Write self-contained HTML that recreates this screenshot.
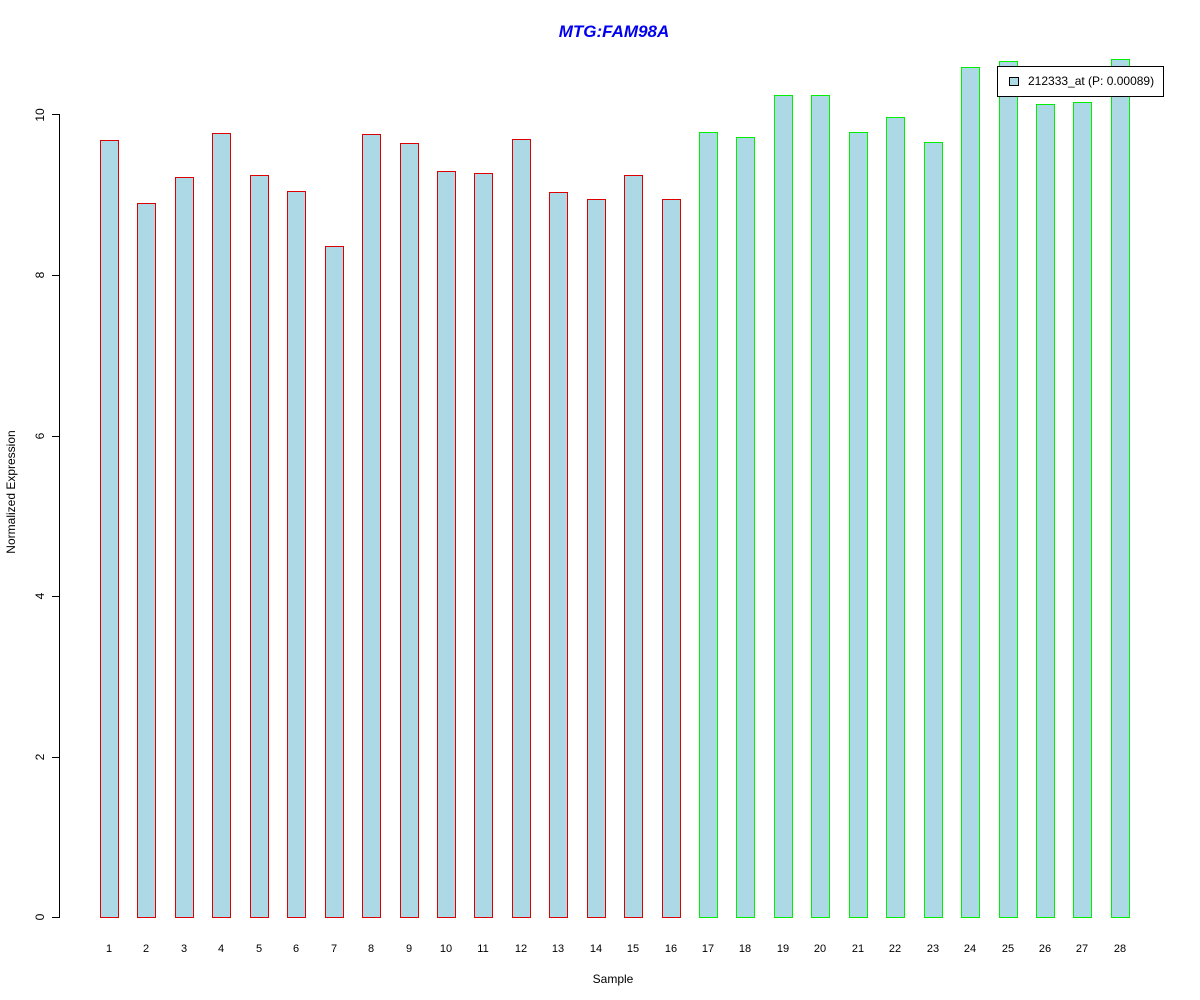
<!DOCTYPE html>
<html><head><meta charset="utf-8"><style>body{margin:0;background:#fff}
.b{position:absolute;box-sizing:border-box;background:#add8e6;border:1px solid #dd0000}
.b.g{border-color:#00ee00}
.l{position:absolute;top:943px;width:40px;margin-left:-20px;text-align:center;font:11px "Liberation Sans",Arial,sans-serif}
</style></head><body>
<div style="position:relative;width:1200px;height:1000px;overflow:hidden">
<svg width="1200" height="1000" xmlns="http://www.w3.org/2000/svg" font-family="Liberation Sans, Arial, sans-serif" style="position:absolute;left:0;top:0">
<text x="614" y="37" text-anchor="middle" font-size="17" font-weight="bold" font-style="italic" fill="#0000ee">MTG:FAM98A</text>
<rect x="59" y="114" width="1" height="804" fill="#000"/>
<rect x="52" y="917" width="8" height="1" fill="#000"/>
<rect x="52" y="757" width="8" height="1" fill="#000"/>
<rect x="52" y="596" width="8" height="1" fill="#000"/>
<rect x="52" y="436" width="8" height="1" fill="#000"/>
<rect x="52" y="275" width="8" height="1" fill="#000"/>
<rect x="52" y="114" width="8" height="1" fill="#000"/>
<g font-size="12" text-anchor="middle">
<text transform="translate(44,917) rotate(-90)">0</text>
<text transform="translate(44,757) rotate(-90)">2</text>
<text transform="translate(44,596) rotate(-90)">4</text>
<text transform="translate(44,436) rotate(-90)">6</text>
<text transform="translate(44,275) rotate(-90)">8</text>
<text transform="translate(44,115) rotate(-90)">10</text>
<text transform="translate(15,492) rotate(-90)">Normalized Expression</text>
<text x="613" y="983">Sample</text>
</g>
</svg>
<div class="b" style="left:100px;top:140px;width:19px;height:778px"></div>
<div class="b" style="left:137px;top:203px;width:19px;height:715px"></div>
<div class="b" style="left:175px;top:177px;width:19px;height:741px"></div>
<div class="b" style="left:212px;top:133px;width:19px;height:785px"></div>
<div class="b" style="left:250px;top:175px;width:19px;height:743px"></div>
<div class="b" style="left:287px;top:191px;width:19px;height:727px"></div>
<div class="b" style="left:325px;top:246px;width:19px;height:672px"></div>
<div class="b" style="left:362px;top:134px;width:19px;height:784px"></div>
<div class="b" style="left:400px;top:143px;width:19px;height:775px"></div>
<div class="b" style="left:437px;top:171px;width:19px;height:747px"></div>
<div class="b" style="left:474px;top:173px;width:19px;height:745px"></div>
<div class="b" style="left:512px;top:139px;width:19px;height:779px"></div>
<div class="b" style="left:549px;top:192px;width:19px;height:726px"></div>
<div class="b" style="left:587px;top:199px;width:19px;height:719px"></div>
<div class="b" style="left:624px;top:175px;width:19px;height:743px"></div>
<div class="b" style="left:662px;top:199px;width:19px;height:719px"></div>
<div class="b g" style="left:699px;top:132px;width:19px;height:786px"></div>
<div class="b g" style="left:736px;top:137px;width:19px;height:781px"></div>
<div class="b g" style="left:774px;top:95px;width:19px;height:823px"></div>
<div class="b g" style="left:811px;top:95px;width:19px;height:823px"></div>
<div class="b g" style="left:849px;top:132px;width:19px;height:786px"></div>
<div class="b g" style="left:886px;top:117px;width:19px;height:801px"></div>
<div class="b g" style="left:924px;top:142px;width:19px;height:776px"></div>
<div class="b g" style="left:961px;top:67px;width:19px;height:851px"></div>
<div class="b g" style="left:999px;top:61px;width:19px;height:857px"></div>
<div class="b g" style="left:1036px;top:104px;width:19px;height:814px"></div>
<div class="b g" style="left:1073px;top:102px;width:19px;height:816px"></div>
<div class="b g" style="left:1111px;top:59px;width:19px;height:859px"></div>
<div class="l" style="left:109px">1</div><div class="l" style="left:146px">2</div><div class="l" style="left:184px">3</div><div class="l" style="left:221px">4</div>
<div class="l" style="left:259px">5</div><div class="l" style="left:296px">6</div><div class="l" style="left:334px">7</div><div class="l" style="left:371px">8</div>
<div class="l" style="left:409px">9</div><div class="l" style="left:446px">10</div><div class="l" style="left:483px">11</div><div class="l" style="left:521px">12</div>
<div class="l" style="left:558px">13</div><div class="l" style="left:596px">14</div><div class="l" style="left:633px">15</div><div class="l" style="left:671px">16</div>
<div class="l" style="left:708px">17</div><div class="l" style="left:745px">18</div><div class="l" style="left:783px">19</div><div class="l" style="left:820px">20</div>
<div class="l" style="left:858px">21</div><div class="l" style="left:895px">22</div><div class="l" style="left:933px">23</div><div class="l" style="left:970px">24</div>
<div class="l" style="left:1008px">25</div><div class="l" style="left:1045px">26</div><div class="l" style="left:1082px">27</div><div class="l" style="left:1120px">28</div>
<div style="position:absolute;left:997px;top:66px;width:165px;height:29px;border:1px solid #000;background:#fff;font:12px 'Liberation Sans',Arial,sans-serif">
<div style="position:absolute;left:11px;top:10px;width:8px;height:7px;border:1px solid #000;background:#add8e6"></div>
<div style="position:absolute;left:30px;top:7px;white-space:nowrap">212333_at (P: 0.00089)</div>
</div>
</div>
</body></html>
